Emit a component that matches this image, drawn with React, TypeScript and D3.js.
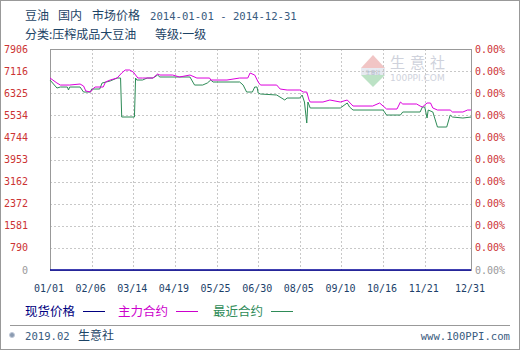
import React from "react";
import * as d3 from "d3";

const yTickValues = [0, 790, 1581, 2372, 3162, 3953, 4744, 5534, 6325, 7116, 7906];
const xTickDates = ["2014-01-01", "2014-02-06", "2014-03-14", "2014-04-19", "2014-05-25", "2014-06-30", "2014-08-05", "2014-09-10", "2014-10-16", "2014-11-21", "2014-12-31"];
const xTickLabels = ["01/01", "02/06", "03/14", "04/19", "05/25", "06/30", "08/05", "09/10", "10/16", "11/21", "12/31"];

const spotDates = ["2014-01-01", "2014-12-31"];
const spotValues = [0, 0];

const mainDates = ["01-01","01-07","01-10","01-18","01-27","01-30","02-01","02-05","02-06","02-09","02-16","02-18","02-22","02-28","03-04","03-07","03-11","03-14","03-18","03-22","03-31","04-04","04-06","04-17","04-23","05-02","05-08","05-19","05-20","06-03","06-14","06-21","06-23","06-27","06-30","07-02","07-16","07-19","07-25","08-05","08-08","08-11","08-13","08-14","08-25","08-31","09-09","09-15","09-20","10-07","10-13","10-19","10-28","10-31","11-02","11-14","11-17","11-19","11-23","11-26","11-28","12-02","12-13","12-15","12-24","12-28","12-31"];
const mainValues = [6868,6689,6617,6617,6653,6582,6403,6367,6439,6546,6546,6725,6796,6868,7047,7154,7154,7082,6868,6868,6868,7011,6975,6975,6904,6975,6868,6868,6796,6796,6868,6868,7047,6975,6725,6617,6617,6474,6439,6439,6367,6367,6081,6009,6009,6081,6009,6081,5866,5866,5974,5759,5759,6009,5938,5938,5866,5831,5974,5974,5795,5723,5723,5652,5652,5723,5723];

const nearDates = ["01-01","01-07","01-10","01-16","01-17","01-18","01-27","01-30","02-05","02-06","02-13","02-15","02-22","02-28","03-03","03-04","03-15","03-16","03-17","03-22","03-26","03-31","04-04","04-06","05-02","05-06","05-13","05-17","05-20","05-22","06-14","06-17","06-20","06-25","06-27","06-29","06-30","07-02","07-16","07-23","07-25","08-05","08-07","08-09","08-11","08-12","08-14","08-31","09-09","09-15","09-17","09-20","10-16","10-19","10-31","11-02","11-17","11-19","11-21","11-23","11-24","11-28","12-02","12-10","12-13","12-15","12-24","12-31"];
const nearValues = [6796,6510,6546,6546,6439,6546,6546,6367,6367,6474,6474,6689,6761,6868,6868,5473,5473,6868,6796,6796,6868,6868,6975,6904,6904,6617,6617,6689,6796,6725,6725,6617,6367,6367,6546,6546,6331,6296,6260,6081,6152,6152,6260,6009,5258,6009,5795,5795,5795,5974,5831,5723,5723,5544,5544,5652,5652,5831,5831,5437,5723,5652,5115,5115,5544,5473,5437,5473];

const legendItems = [
  { label: "现货价格", color: "#000080" },
  { label: "主力合约", color: "#cc00cc" },
  { label: "最近合约", color: "#2e8b57" },
];

const parse = d3.timeParse("%Y-%m-%d");
const cjk = "'Noto Sans CJK SC', 'Noto Sans', sans-serif";
const mono = "'DejaVu Sans Mono', 'Liberation Mono', monospace";

export default function App() {
  const W = 520, H = 350;
  const left = 50, right = 471, top = 49, bottom = 270;
  const x = d3.scaleTime().domain([parse("2014-01-01")!, parse("2014-12-31")!]).range([left, right]);
  const y = d3.scaleLinear().domain([0, 7906]).range([bottom, top]);
  const line = d3.line<[Date, number]>().x(d => x(d[0])).y(d => y(d[1]));

  const mainPts: [Date, number][] = mainDates.map((d, i) => [parse("2014-" + d)!, mainValues[i]]);
  const nearPts: [Date, number][] = nearDates.map((d, i) => [parse("2014-" + d)!, nearValues[i]]);
  const spotPts: [Date, number][] = spotDates.map((d, i) => [parse(d)!, spotValues[i]]);

  const titleColor = "#1d4466";
  const legendX = [25, 118, 213];

  return (
    <svg width={W} height={H} style={{ position: "absolute", left: 0, top: 0, display: "block" }}>
      <rect x={0.5} y={0.5} width={W - 1} height={H - 1} fill="#fff" stroke="#999" />
      {/* title */}
      <g fontFamily={cjk} fontSize={12} fill={titleColor}>
        <text x={25} y={20}>豆油</text>
        <text x={58} y={20}>国内</text>
        <text x={92} y={20}>市场价格</text>
        <text x={150} y={20} fontFamily={mono} fontSize={10.6} fill="#3a5c80">2014-01-01 - 2014-12-31</text>
        <text x={25} y={39}>分类:压榨成品大豆油</text>
        <text x={155} y={39}>等级:一级</text>
      </g>

      {/* watermark */}
      <g opacity={0.6}>
        <polygon points="373,55 385,68 361,68" fill="#e8a0a0" />
        <rect x={361} y={68} width={24} height={7} fill="#d8dde8" />
        <polygon points="361,75 385,75 373,87" fill="#90d0a0" />
        <text x={373} y={73.5} fontSize={5} textAnchor="middle" fill="#6a7a9a" fontFamily={cjk}>生意社</text>
        <text x={390} y={68} fontSize={15} fill="#b0b5c6" fontFamily={cjk} letterSpacing={5}>生意社</text>
        <text x={390} y={81} fontSize={9} fill="#b0b5c6" fontFamily="'DejaVu Sans', sans-serif">100PPI.COM</text>
      </g>

      {/* grid */}
      <g stroke="#c8c8c8" strokeDasharray="2,2" strokeWidth={1}>
        {yTickValues.slice(1, -1).map(v => (
          <line key={v} x1={left} x2={right} y1={Math.round(y(v)) + 0.5} y2={Math.round(y(v)) + 0.5} />
        ))}
        {xTickDates.slice(1, -1).map(d => (
          <line key={d} x1={Math.round(x(parse(d)!)) + 0.5} x2={Math.round(x(parse(d)!)) + 0.5} y1={top} y2={bottom} />
        ))}
      </g>
      <rect x={left + 0.5} y={top + 0.5} width={right - left} height={bottom - top} fill="none" stroke="#999" />

      {/* series */}
      <path d={line(nearPts) || ""} fill="none" stroke="#2e8b57" strokeWidth={1} />
      <path d={line(mainPts) || ""} fill="none" stroke="#dd00dd" strokeWidth={1} />
      <path d={line(spotPts) || ""} fill="none" stroke="#000099" strokeWidth={1.5} />

      {/* axes */}
      <g fontFamily={mono} fontSize={10}>
        {yTickValues.map(v => (
          <text key={v} x={28} y={y(v) + 3.5} textAnchor="end" fill={v === 0 ? "#999" : "#cc3333"}>{v}</text>
        ))}
        {yTickValues.map(v => (
          <text key={"r" + v} x={475} y={y(v) + 3.5} fill={v === 0 ? "#999" : "#cc3333"}>0.00%</text>
        ))}
        {xTickDates.map((d, i) => (
          <text key={d} x={x(parse(d)!) - 1} y={292} textAnchor="middle" fill="#1d3f6a">{xTickLabels[i]}</text>
        ))}
      </g>

      {/* legend */}
      <g fontFamily={cjk} fontSize={12.5}>
        {legendItems.map((it, i) => (
          <g key={it.label}>
            <text x={legendX[i]} y={316} fill={it.color}>{it.label}</text>
            <line x1={legendX[i] + 58} x2={legendX[i] + 80} y1={311.5} y2={311.5} stroke={it.color} />
          </g>
        ))}
      </g>

      {/* footer */}
      <line x1={10} x2={510} y1={325.5} y2={325.5} stroke="#999" />
      <circle cx={12} cy={335} r={2.5} fill="#8a9ab0" stroke="#c0c8d8" />
      <text x={25} y={340} fontFamily={mono} fontSize={10.6} fill="#3a5c80">2019.02</text>
      <text x={78} y={340} fontFamily={cjk} fontSize={12} fill={titleColor}>生意社</text>
      <text x={510} y={340} textAnchor="end" fontFamily={mono} fontSize={10.6} fill="#3a5c80">www.100PPI.com</text>
    </svg>
  );
}
